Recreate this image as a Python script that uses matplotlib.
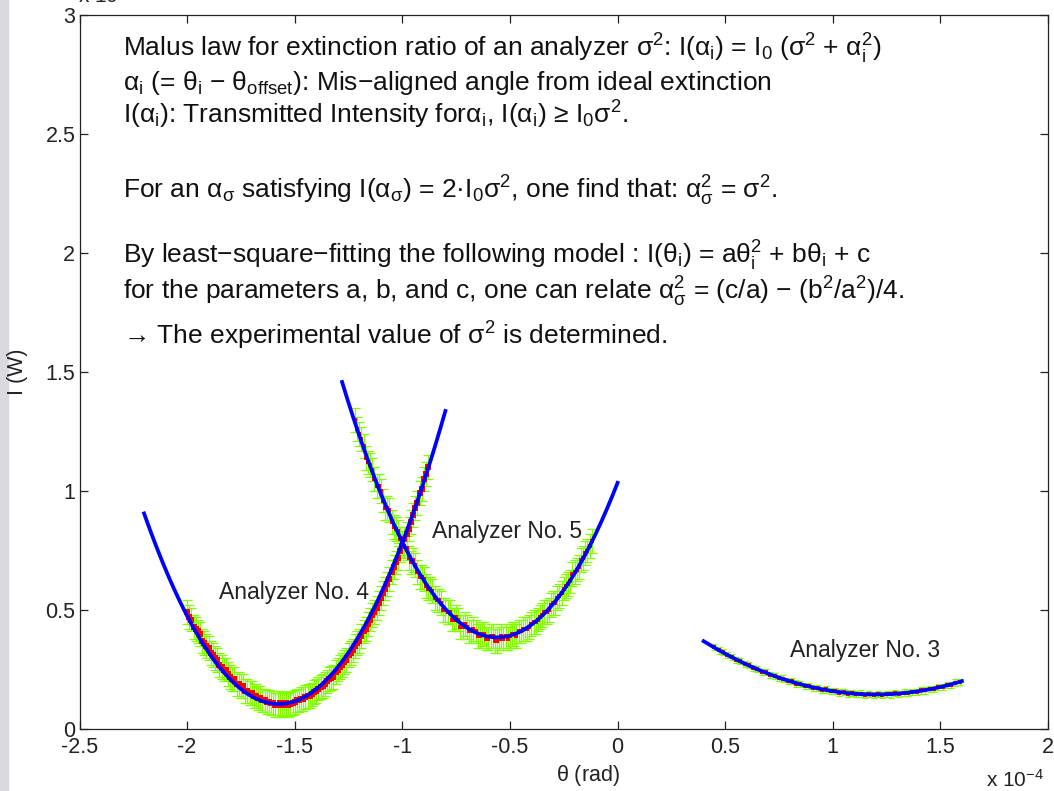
import numpy as np
import matplotlib
matplotlib.use("Agg")
import matplotlib.pyplot as plt
from matplotlib.patches import Rectangle
from matplotlib.ticker import FormatStrFormatter

plt.rcParams['font.family'] = ['Liberation Sans', 'DejaVu Sans']
plt.rcParams['mathtext.fontset'] = 'custom'
plt.rcParams['mathtext.rm'] = 'Liberation Sans'
plt.rcParams['mathtext.it'] = 'Liberation Sans'
plt.rcParams['mathtext.bf'] = 'Liberation Sans:bold'
plt.rcParams['mathtext.default'] = 'regular'

# ---------------- data (theta in 1e-4 rad, intensity in 1e-3 W) ----------------
x4 = [-2.00, -1.99, -1.98, -1.97, -1.96, -1.95, -1.94, -1.93, -1.92, -1.91,
      -1.90, -1.89, -1.88, -1.87, -1.86, -1.85, -1.84, -1.83, -1.82, -1.81,
      -1.80, -1.79, -1.78, -1.77, -1.76, -1.75, -1.74, -1.73, -1.72, -1.71,
      -1.70, -1.69, -1.68, -1.67, -1.66, -1.65, -1.64, -1.63, -1.62, -1.61,
      -1.60, -1.59, -1.58, -1.57, -1.56, -1.55, -1.54, -1.53, -1.52, -1.51,
      -1.50, -1.49, -1.48, -1.47, -1.46, -1.45, -1.44, -1.43, -1.42, -1.41,
      -1.40, -1.39, -1.38, -1.37, -1.36, -1.35, -1.34, -1.33, -1.32, -1.31,
      -1.30, -1.29, -1.28, -1.27, -1.26, -1.25, -1.24, -1.23, -1.22, -1.21,
      -1.20, -1.19, -1.18, -1.17, -1.16, -1.15, -1.14, -1.13, -1.12, -1.11,
      -1.10, -1.09, -1.08, -1.07, -1.06, -1.05, -1.04, -1.03, -1.02, -1.01,
      -1.00, -0.99, -0.98, -0.97, -0.96, -0.95, -0.94, -0.93, -0.92, -0.91,
      -0.90, -0.89, -0.88]
y4 = [0.49, 0.47, 0.46, 0.43, 0.42, 0.41, 0.40, 0.37, 0.36, 0.35,
      0.34, 0.32, 0.31, 0.30, 0.29, 0.27, 0.26, 0.25, 0.25, 0.23,
      0.22, 0.21, 0.21, 0.19, 0.19, 0.18, 0.18, 0.16, 0.16, 0.15,
      0.15, 0.14, 0.14, 0.13, 0.13, 0.12, 0.12, 0.115, 0.115, 0.11,
      0.11, 0.10, 0.10, 0.11, 0.105, 0.10, 0.11, 0.10, 0.105, 0.11,
      0.115, 0.12, 0.12, 0.125, 0.125, 0.135, 0.14, 0.14, 0.145, 0.155,
      0.16, 0.17, 0.175, 0.18, 0.19, 0.20, 0.21, 0.215, 0.22, 0.24,
      0.25, 0.26, 0.27, 0.28, 0.29, 0.31, 0.32, 0.33, 0.35, 0.36,
      0.37, 0.39, 0.41, 0.42, 0.44, 0.46, 0.48, 0.49, 0.51, 0.53,
      0.55, 0.57, 0.59, 0.61, 0.63, 0.66, 0.68, 0.70, 0.72, 0.75,
      0.77, 0.80, 0.82, 0.84, 0.87, 0.90, 0.93, 0.95, 0.99, 1.01,
      1.05, 1.07, 1.10]
err4 = 0.05

x5 = [-1.22, -1.21, -1.20, -1.19, -1.18, -1.17, -1.16, -1.15, -1.14, -1.13,
      -1.12, -1.11, -1.10, -1.09, -1.08, -1.07, -1.06, -1.05, -1.04, -1.03,
      -1.02, -1.01, -1.00, -0.99, -0.98, -0.97, -0.96, -0.95, -0.94, -0.93,
      -0.92, -0.91, -0.90, -0.89, -0.88, -0.87, -0.86, -0.85, -0.84, -0.83,
      -0.82, -0.81, -0.80, -0.79, -0.78, -0.77, -0.76, -0.75, -0.74, -0.73,
      -0.72, -0.71, -0.70, -0.69, -0.68, -0.67, -0.66, -0.65, -0.64, -0.63,
      -0.62, -0.61, -0.60, -0.59, -0.58, -0.57, -0.56, -0.55, -0.54, -0.53,
      -0.52, -0.51, -0.50, -0.49, -0.48, -0.47, -0.46, -0.45, -0.44, -0.43,
      -0.42, -0.41, -0.40, -0.39, -0.38, -0.37, -0.36, -0.35, -0.34, -0.33,
      -0.32, -0.31, -0.30, -0.29, -0.28, -0.27, -0.26, -0.25, -0.24, -0.23,
      -0.22, -0.21, -0.20, -0.19, -0.18, -0.17, -0.16, -0.15, -0.14, -0.13,
      -0.12]
y5 = [1.30, 1.26, 1.24, 1.22, 1.19, 1.14, 1.12, 1.11, 1.09, 1.05,
      1.02, 1.02, 1.00, 0.96, 0.93, 0.93, 0.92, 0.87, 0.85, 0.84,
      0.83, 0.80, 0.78, 0.77, 0.76, 0.72, 0.70, 0.71, 0.69, 0.66,
      0.64, 0.64, 0.63, 0.60, 0.59, 0.59, 0.58, 0.55, 0.54, 0.54,
      0.53, 0.50, 0.50, 0.49, 0.49, 0.46, 0.46, 0.47, 0.46, 0.43,
      0.43, 0.44, 0.43, 0.41, 0.41, 0.42, 0.41, 0.39, 0.39, 0.40,
      0.40, 0.38, 0.38, 0.39, 0.39, 0.37, 0.37, 0.38, 0.39, 0.38,
      0.39, 0.38, 0.39, 0.40, 0.40, 0.39, 0.41, 0.41, 0.42, 0.42,
      0.42, 0.43, 0.44, 0.45, 0.45, 0.46, 0.47, 0.48, 0.49, 0.49,
      0.50, 0.52, 0.53, 0.53, 0.55, 0.56, 0.57, 0.59, 0.60, 0.61,
      0.62, 0.65, 0.66, 0.67, 0.68, 0.71, 0.72, 0.74, 0.75, 0.77,
      0.79]
err5 = 0.05

x3 = [0.45, 0.47, 0.49, 0.51, 0.53, 0.55, 0.57, 0.59, 0.61, 0.63,
      0.65, 0.67, 0.69, 0.71, 0.73, 0.75, 0.77, 0.79, 0.81, 0.83,
      0.85, 0.87, 0.89, 0.91, 0.93, 0.95, 0.97, 0.99, 1.01, 1.03,
      1.05, 1.07, 1.09, 1.11, 1.13, 1.15, 1.17, 1.19, 1.21, 1.23,
      1.25, 1.27, 1.29, 1.31, 1.33, 1.35, 1.37, 1.39, 1.41, 1.43,
      1.45, 1.47, 1.49, 1.51, 1.53, 1.55, 1.57, 1.59]
y3 = [0.344, 0.330, 0.323, 0.310, 0.304, 0.291, 0.286, 0.273, 0.268, 0.257,
      0.253, 0.241, 0.238, 0.227, 0.224, 0.214, 0.212, 0.202, 0.200, 0.191,
      0.190, 0.181, 0.181, 0.172, 0.173, 0.165, 0.166, 0.158, 0.160, 0.153,
      0.155, 0.149, 0.151, 0.146, 0.149, 0.144, 0.147, 0.143, 0.147, 0.143,
      0.148, 0.145, 0.150, 0.147, 0.153, 0.151, 0.157, 0.156, 0.162, 0.162,
      0.169, 0.169, 0.176, 0.177, 0.185, 0.186, 0.195, 0.196]
err3 = 0.013

# fitted model I = a*theta^2 + b*theta + c, and plotted theta ranges
fit_a = [2.05, 2.07, 0.35]
fit_b = [6.4575, 2.3184, -0.84]
fit_c = [5.1903, 1.0342, 0.649]
fit_lo = [-2.2, -1.28, 0.4]
fit_hi = [-0.8, 0.0, 1.6]

labels = ["Analyzer No. 4", "Analyzer No. 5", "Analyzer No. 3"]
label_xy = [(-1.85, 0.575), (-0.86, 0.83), (0.80, 0.328)]

xticks = [-2.5, -2, -1.5, -1, -0.5, 0, 0.5, 1, 1.5, 2]
yticks = [0, 0.5, 1, 1.5, 2, 2.5, 3]

text_lines = [
    r"Malus law for extinction ratio of an analyzer $\sigma^2$: I($\alpha_i$) = I$_0$ ($\sigma^2$ + $\alpha_i^2$)",
    r"$\alpha_i$ (= $\theta_i$ − $\theta_{offset}$): Mis−aligned angle from ideal extinction",
    r"I($\alpha_i$): Transmitted Intensity for$\alpha_i$, I($\alpha_i$) ≥ I$_0\sigma^2$.",
    r"For an $\alpha_\sigma$ satisfying I($\alpha_\sigma$) = 2·I$_0\sigma^2$, one find that: $\alpha_\sigma^2$ = $\sigma^2$.",
    r"By least−square−fitting the following model : I($\theta_i$) = a$\theta_i^2$ + b$\theta_i$ + c",
    r"for the parameters a, b, and c, one can relate $\alpha_\sigma^2$ = (c/a) − (b$^2$/a$^2$)/4.",
    "→ The experimental value of $\\sigma^2$ is determined.",
]
text_base_px = [57, 90, 124, 199, 264, 300, 345]

# ---------------- figure ----------------
W, H = 1054, 791
fig = plt.figure(figsize=(W / 100, H / 100), dpi=100)
fig.patches.append(Rectangle((0, 0), 8 / W, 1, transform=fig.transFigure,
                             color='#d9d9de', zorder=-5))
ax_l, ax_r, ax_t, ax_b = 79.5, 1048, 15, 729
ax = fig.add_axes([ax_l / W, 1 - ax_b / H, (ax_r - ax_l) / W, (ax_b - ax_t) / H])

green = '#80ff00'
for xs, ys, e, cs, ms in [(x4, y4, err4, 3.4, 4.4), (x5, y5, err5, 3.4, 3.4),
                          (x3, y3, err3, 2.2, 2.5)]:
    ax.errorbar(xs, ys, yerr=e, fmt='none', ecolor=green, elinewidth=0.9,
                capsize=cs, capthick=0.9, zorder=2)
    ax.plot(xs, ys, 's', color='red', markersize=ms, markeredgewidth=0, zorder=3)

for a, b, c, lo, hi in zip(fit_a, fit_b, fit_c, fit_lo, fit_hi):
    t = np.linspace(lo, hi, 200)
    ax.plot(t, np.polyval([a, b, c], t), color='#0000ff', linewidth=2.7, zorder=4)

for lab, (lx, ly) in zip(labels, label_xy):
    ax.text(lx, ly, lab, fontsize=16.5, color='#222222', ha='left', va='center', zorder=5)

for s, yb in zip(text_lines, text_base_px):
    ax.text((123 - ax_l) / (ax_r - ax_l), (ax_b - yb) / (ax_b - ax_t), s,
            transform=ax.transAxes, fontsize=19, color='#111111',
            ha='left', va='baseline')

ax.set_xlim(-2.5, 2)
ax.set_ylim(0, 3)
ax.set_xticks(xticks)
ax.set_yticks(yticks)
ax.xaxis.set_major_formatter(FormatStrFormatter('%g'))
ax.yaxis.set_major_formatter(FormatStrFormatter('%g'))
ax.tick_params(direction='in', length=6, width=0.9, labelsize=15.5,
               top=True, right=True, colors='#222222', pad=3)
ax.tick_params(axis='x', pad=6)
for sp in ax.spines.values():
    sp.set_color('#222222')
    sp.set_linewidth(0.9)

ax.set_xlabel(r"$\theta$ (rad)", fontsize=15.5, color='#222222')
ax.xaxis.set_label_coords((588 - ax_l) / (ax_r - ax_l), -(763 - ax_b) / (ax_b - ax_t),
                          transform=ax.transAxes)
ax.xaxis.label.set_va('top')
ax.set_ylabel("I (W)", fontsize=15.5, color='#222222')
ax.yaxis.set_label_coords(-(ax_l - 28) / (ax_r - ax_l), 0.5)

fig.text(986 / W, 1 - 787 / H, r"x 10$^{-4}$", fontsize=15, color='#222222',
         ha='left', va='baseline')
fig.text(78 / W, 1 - 3 / H, r"x 10$^{-3}$", fontsize=15, color='#222222',
         ha='left', va='baseline')

fig.savefig("out.png", dpi=100, facecolor='white')
